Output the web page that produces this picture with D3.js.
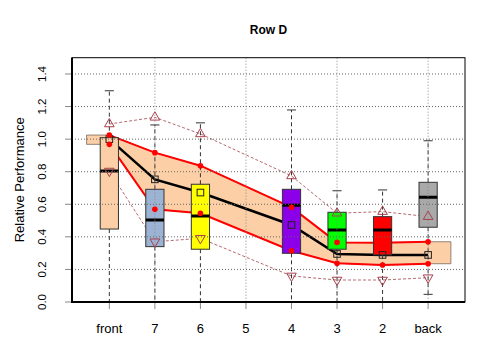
<!DOCTYPE html>
<html lang="en">
<head>
    <meta charset="UTF-8">
    <title>Row D</title>
    <style>
        body {
            margin: 0;
            background: #FFFFFF;
        }
        text {
            font-family: "Liberation Sans", Arial, sans-serif;
        }
    </style>
</head>
<body>
<div id="chart"></div>
<script src="https://d3js.org/d3.v7.min.js"></script>
<script>
    // category labels along the x axis (position 1..8)
    const labels = ["front", "7", "6", "5", "4", "3", "2", "back"];
    // positions that carry data (5 is empty)
    const positions = [1, 2, 3, 5, 6, 7, 8];

    // boxplot stats
    const whiskLow = [0.0, 0.0, 0.0, 0.0, 0.0, 0.0, 0.047];
    const boxQ1 = [0.448, 0.340, 0.324, 0.299, 0.324, 0.289, 0.459];
    const boxMed = [0.804, 0.503, 0.528, 0.594, 0.442, 0.442, 0.643];
    const boxQ3 = [1.009, 0.692, 0.723, 0.692, 0.551, 0.524, 0.735];
    const whiskHigh = [1.297, 1.087, 1.100, 1.179, 0.683, 0.688, 0.990];
    const boxColors = ["#FCCFA7", "#9DB3D4", "#FFFF00", "#8B00E8", "#00FF00", "#FF0000", "#A9A9A9"];

    // band + lines
    const upperLine = [1.025, 0.917, 0.837, 0.581, 0.366, 0.364, 0.370];
    const lowerLine = [0.968, 0.569, 0.545, 0.315, 0.238, 0.227, 0.235];
    const centerLine = [1.000, 0.753, 0.672, 0.473, 0.295, 0.289, 0.289];
    // triangle markers
    const triUp = [1.093, 1.134, 1.032, 0.774, 0.545, 0.555, 0.524];
    const triDown = [0.804, 0.370, 0.391, 0.160, 0.135, 0.135, 0.149];

    const yTicks = [0, 0.2, 0.4, 0.6, 0.8, 1.0, 1.2, 1.4];
    const gridX = [2, 4, 6, 8];

    const W = 480, H = 360;
    const plot = {left: 72, right: 465, top: 57.7, bottom: 302};

    const svg = d3.select("#chart")
        .append("svg")
        .attr("width", W)
        .attr("height", H);

    const x = d3.scaleLinear()
        .domain([0.18, 8.81])
        .range([plot.left, plot.right]);

    const y = d3.scaleLinear()
        .domain([0, 1.5])
        .range([plot.bottom, plot.top]);

    svg.append("clipPath")
        .attr("id", "clip")
        .append("rect")
        .attr("x", plot.left)
        .attr("y", plot.top)
        .attr("width", plot.right - plot.left)
        .attr("height", plot.bottom - plot.top);

    const g = svg.append("g").attr("clip-path", "url(#clip)");

    // band polygon, extended half a step at both ends
    const n = positions.length;
    const bandPts = [];
    bandPts.push([0.5, upperLine[0]]);
    positions.forEach((p, i) => bandPts.push([p, upperLine[i]]));
    bandPts.push([8.5, upperLine[n - 1]]);
    bandPts.push([8.5, lowerLine[n - 1]]);
    for (let i = n - 1; i >= 0; i--) bandPts.push([positions[i], lowerLine[i]]);
    bandPts.push([0.5, lowerLine[0]]);

    g.append("path")
        .attr("d", d3.line().x(d => x(d[0])).y(d => y(d[1]))(bandPts) + "Z")
        .attr("fill", "#FCCFA7")
        .attr("stroke", "#7a6a60")
        .attr("stroke-width", 0.8);

    const line = d3.line()
        .x((d, i) => x(positions[i]))
        .y(d => y(d));

    // dashed triangle connectors
    [triUp, triDown].forEach(arr => {
        g.append("path")
            .attr("d", line(arr))
            .attr("fill", "none")
            .attr("stroke", "#B56A70")
            .attr("stroke-width", 1)
            .attr("stroke-dasharray", "3,2");
    });

    // red limits and black centre line
    [upperLine, lowerLine].forEach(arr => {
        g.append("path")
            .attr("d", line(arr))
            .attr("fill", "none")
            .attr("stroke", "#FF0000")
            .attr("stroke-width", 2);
    });
    g.append("path")
        .attr("d", line(centerLine))
        .attr("fill", "none")
        .attr("stroke", "#000")
        .attr("stroke-width", 2.5);

    // boxplots
    const bw = x(1.2) - x(1);   // half box width
    const cw = bw / 2;          // half cap width
    positions.forEach((p, i) => {
        const cx = x(p);
        // whiskers
        [[boxQ3[i], whiskHigh[i]], [boxQ1[i], whiskLow[i]]].forEach(w => {
            g.append("line")
                .attr("x1", cx).attr("x2", cx)
                .attr("y1", y(w[0])).attr("y2", y(w[1]))
                .attr("stroke", "#333")
                .attr("stroke-dasharray", "4,3");
            g.append("line")
                .attr("x1", cx - cw).attr("x2", cx + cw)
                .attr("y1", y(w[1])).attr("y2", y(w[1]))
                .attr("stroke", "#333");
        });
        g.append("rect")
            .attr("x", cx - bw)
            .attr("y", y(boxQ3[i]))
            .attr("width", 2 * bw)
            .attr("height", y(boxQ1[i]) - y(boxQ3[i]))
            .attr("fill", boxColors[i])
            .attr("stroke", "#333")
            .attr("stroke-width", 1);
        g.append("line")
            .attr("x1", cx - bw).attr("x2", cx + bw)
            .attr("y1", y(boxMed[i])).attr("y2", y(boxMed[i]))
            .attr("stroke", "#000")
            .attr("stroke-width", 3);
    });

    // grid (dotted) on top of boxes
    yTicks.slice(1).forEach(t => {
        g.append("line")
            .attr("x1", plot.left).attr("x2", plot.right)
            .attr("y1", y(t)).attr("y2", y(t))
            .attr("stroke", "#666")
            .attr("stroke-dasharray", "1,2");
    });
    gridX.forEach(t => {
        g.append("line")
            .attr("x1", x(t)).attr("x2", x(t))
            .attr("y1", plot.top).attr("y2", plot.bottom)
            .attr("stroke", "#888")
            .attr("stroke-dasharray", "1,2");
    });

    // markers
    const tri = d3.symbol().type(d3.symbolTriangle).size(40);
    positions.forEach((p, i) => {
        g.append("path")
            .attr("d", tri())
            .attr("transform", `translate(${x(p)},${y(triUp[i])})`)
            .attr("fill", "none")
            .attr("stroke", "#A8404C");
        g.append("path")
            .attr("d", tri())
            .attr("transform", `translate(${x(p)},${y(triDown[i])}) rotate(180)`)
            .attr("fill", "none")
            .attr("stroke", "#A8404C");
    });

    positions.forEach((p, i) => {
        g.append("rect")
            .attr("x", x(p) - 3.3)
            .attr("y", y(centerLine[i]) - 3.3)
            .attr("width", 6.6)
            .attr("height", 6.6)
            .attr("fill", "none")
            .attr("stroke", "#222");
    });

    [upperLine, lowerLine].forEach(arr => {
        positions.forEach((p, i) => {
            g.append("circle")
                .attr("cx", x(p))
                .attr("cy", y(arr[i]))
                .attr("r", 2.8)
                .attr("fill", "#FF0000");
        });
    });

    // axes
    const yAxis = svg.append("g");
    yTicks.forEach(t => {
        yAxis.append("line")
            .attr("x1", plot.left - 7).attr("x2", plot.left)
            .attr("y1", y(t)).attr("y2", y(t))
            .attr("stroke", "#888");
        yAxis.append("text")
            .attr("transform", `translate(46,${y(t)}) rotate(-90)`)
            .attr("text-anchor", "middle")
            .attr("font-size", 11.5)
            .text(t.toFixed(1));
    });

    const xAxis = svg.append("g");
    labels.forEach((l, i) => {
        xAxis.append("line")
            .attr("x1", x(i + 1)).attr("x2", x(i + 1))
            .attr("y1", plot.bottom).attr("y2", plot.bottom + 7)
            .attr("stroke", "#888");
        xAxis.append("text")
            .attr("x", x(i + 1))
            .attr("y", 333)
            .attr("text-anchor", "middle")
            .attr("font-size", 13)
            .text(l);
    });

    // frame
    svg.append("rect")
        .attr("x", plot.left).attr("y", plot.top)
        .attr("width", plot.right - plot.left)
        .attr("height", plot.bottom - plot.top)
        .attr("fill", "none")
        .attr("stroke", "#000");
    svg.append("path")
        .attr("d", `M${plot.left},${plot.top}V${plot.bottom}H${plot.right}`)
        .attr("fill", "none")
        .attr("stroke", "#000")
        .attr("stroke-width", 2);

    // titles
    svg.append("text")
        .attr("x", (plot.left + plot.right) / 2)
        .attr("y", 34)
        .attr("text-anchor", "middle")
        .attr("font-size", 12)
        .attr("font-weight", "bold")
        .text("Row D");

    svg.append("text")
        .attr("transform", `translate(19,${(plot.top + plot.bottom) / 2}) rotate(-90)`)
        .attr("text-anchor", "middle")
        .attr("dominant-baseline", "central")
        .attr("font-size", 13)
        .text("Relative Performance");
</script>
</body>
</html>
